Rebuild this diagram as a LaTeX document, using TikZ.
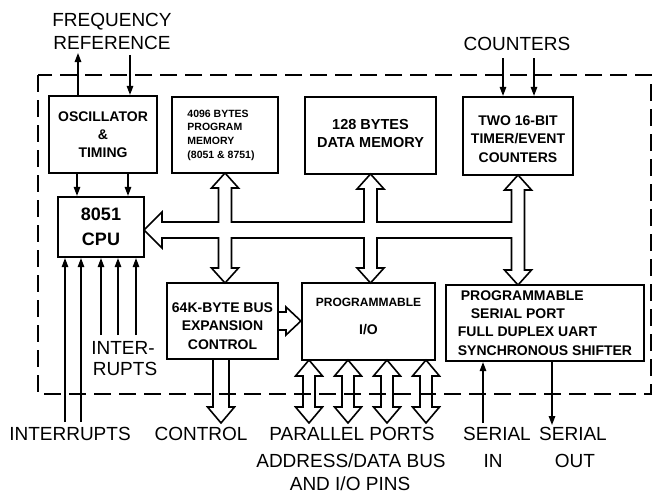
\documentclass[tikz,border=0pt]{standalone}
\usepackage{fontspec}
\setmainfont{Liberation Sans}
\usetikzlibrary{arrows.meta,calc}
\tikzset{
  box/.style={draw, line width=2.2pt, inner sep=0pt},
  btxt/.style={font=\bfseries\fontsize{14}{18.3}\selectfont, align=center, inner sep=0pt},
  arr/.style={line width=1.4pt, -{Triangle[length=9pt,width=6.5pt]}},
  hollow/.style={line width=1.6pt, line join=miter},
  lbl/.style={font=\fontsize{19}{22}\selectfont, inner sep=0pt, anchor=base},
  border/.style={line width=2.6pt, dash pattern=on 17pt off 8pt},
}
\newcommand{\vdoublearrow}[3]{% x, top tip y, bottom tip y
  \draw[hollow] (#1,#2) -- ({#1+13.5},{#2+16}) -- ({#1+6},{#2+16}) -- ({#1+6},{#3-16})
    -- ({#1+13.5},{#3-16}) -- (#1,#3) -- ({#1-13.5},{#3-16}) -- ({#1-6},{#3-16})
    -- ({#1-6},{#2+16}) -- ({#1-13.5},{#2+16}) -- cycle;}
\begin{document}
\begin{tikzpicture}[x=1pt,y=-1pt]
\useasboundingbox (0,0) rectangle (655,495);

% dashed chip border
\draw[border] (38,75) rectangle (651,394);

% blocks
\node[box, minimum width=108pt, minimum height=77pt] (osc) at (103,134.5) {};
\node[btxt] (osct) at (osc.center) {OSCILLATOR\\\&\\TIMING};
\node[box, minimum width=106pt, minimum height=76pt] (prog) at (225,135) {};
\node[btxt, font=\bfseries\fontsize{10.5}{13.7}\selectfont, align=left] (progt) at ($(prog.center)+(-4,0)$) {4096 BYTES\\PROGRAM\\MEMORY\\(8051 \& 8751)};
\node[box, minimum width=131pt, minimum height=77pt] (data) at (370.5,135.5) {};
\node[btxt, font=\bfseries\fontsize{14.5}{18}\selectfont] (datat) at ($(data.center)+(0,-1.5)$) {128 BYTES\\DATA MEMORY};
\node[box, minimum width=110pt, minimum height=78pt] (timer) at (518,136) {};
\node[btxt] (timert) at ($(timer.center)+(0,3)$) {TWO 16-BIT\\TIMER/EVENT\\COUNTERS};
\node[box, minimum width=86pt, minimum height=60pt] (cpu) at (101,227) {};
\node[btxt, font=\bfseries\fontsize{18}{25}\selectfont] (cput) at (cpu.center) {8051\\CPU};
\node[box, minimum width=111pt, minimum height=76pt] (exp) at (222.5,321) {};
\node[btxt] (expt) at ($(exp.center)+(0,5)$) {64K-BYTE BUS\\EXPANSION\\CONTROL};
\node[box, minimum width=133pt, minimum height=77pt] (io) at (368.5,321.5) {};
\node[btxt, font=\bfseries\fontsize{12}{14}\selectfont] (iot1) at (368.5,302) {PROGRAMMABLE};
\node[btxt] (iot2) at (368.5,330) {I/O};
\node[box, minimum width=198pt, minimum height=76pt] (ser) at (545,323) {};
\node[btxt, align=left] (sert) at (ser.center) {\hspace*{3pt}PROGRAMMABLE\\\hspace*{13pt}SERIAL PORT\\FULL DUPLEX UART\\SYNCHRONOUS SHIFTER};

% external labels
\node[lbl] (freq) at (112,27) {FREQUENCY};
\node[lbl] (ref) at (112,49) {REFERENCE};
\node[lbl] (cnt) at (517,50) {COUNTERS};
\node[lbl] (inter) at (123,354) {INTER-};
\node[lbl] (rupts) at (125,375) {RUPTS};
\node[lbl] (ints) at (70,440) {INTERRUPTS};
\node[lbl] (ctrl) at (201,440) {CONTROL};
\node[lbl] (par) at (352,440) {PARALLEL PORTS};
\node[lbl] (adb) at (351,467) {ADDRESS/DATA BUS};
\node[lbl] (pins) at (350,490) {AND I/O PINS};
\node[lbl] (sin1) at (497,440) {SERIAL};
\node[lbl] (sin2) at (493,467) {IN};
\node[lbl] (sout1) at (573,440) {SERIAL};
\node[lbl] (sout2) at (575,467) {OUT};

% free ends
\coordinate (fout) at (78,53);
\coordinate (fin) at (130,55);
\coordinate (c1) at (503,58);
\coordinate (c2) at (534,58);
\coordinate (i1) at (65,422);
\coordinate (i2) at (81,422);
\coordinate (i3) at (101,335);
\coordinate (i4) at (118,335);
\coordinate (i5) at (136,335);
\coordinate (sin) at (483,423);
\coordinate (sout) at (552,425);

% thin arrows
\draw[arr] (osc.north -| fout) -- (fout);
\draw[arr] (fin) -- (fin |- osc.north);
\draw[arr] ([xshift=-26pt]osc.south) -- ([xshift=-26pt]osc.south |- cpu.north);
\draw[arr] ([xshift=25pt]osc.south) -- ([xshift=25pt]osc.south |- cpu.north);
\draw[arr] (c1) -- (c1 |- timer.north);
\draw[arr] (c2) -- (c2 |- timer.north);
\foreach \p in {i1,i2,i3,i4,i5} \draw[arr] (\p) -- (\p |- cpu.south);
\draw[arr] (sin) -- (sin |- ser.south);
\draw[arr] (sout |- ser.south) -- (sout);

% internal bus (hollow)
\def\xa{225}\def\xb{370.5}\def\xc{518}
\def\yu{222}\def\yl{238}
\draw[hollow] (144,230) -- (162,212) -- (162,\yu)
  -- ({\xa-6.5},\yu) -- ({\xa-6.5},188) -- ({\xa-13.5},188) -- (\xa,173) -- ({\xa+13.5},188) -- ({\xa+6.5},188) -- ({\xa+6.5},\yu)
  -- ({\xb-6.5},\yu) -- ({\xb-6.5},189) -- ({\xb-13.5},189) -- (\xb,174) -- ({\xb+13.5},189) -- ({\xb+6.5},189) -- ({\xb+6.5},\yu)
  -- ({\xc-6.5},\yu) -- ({\xc-6.5},190) -- ({\xc-13.5},190) -- (\xc,175) -- ({\xc+13.5},190) -- ({\xc+6.5},190)
  -- ({\xc+6.5},270) -- ({\xc+13.5},270) -- (\xc,285) -- ({\xc-13.5},270) -- ({\xc-6.5},270) -- ({\xc-6.5},\yl)
  -- ({\xb+6.5},\yl) -- ({\xb+6.5},268) -- ({\xb+13.5},268) -- (\xb,283) -- ({\xb-13.5},268) -- ({\xb-6.5},268) -- ({\xb-6.5},\yl)
  -- ({\xa+6.5},\yl) -- ({\xa+6.5},268) -- ({\xa+13.5},268) -- (\xa,283) -- ({\xa-13.5},268) -- ({\xa-6.5},268) -- ({\xa-6.5},\yl)
  -- (162,\yl) -- (162,248) -- cycle;

% expansion -> I/O
\draw[hollow] (exp.east |- 0,312) -- (286,312) -- (286,307) -- (io.west |- 0,321) -- (286,335) -- (286,330) -- (exp.east |- 0,330);

% control out
\draw[hollow] (213,359) -- (213,407) -- (207.5,407) -- (221,423) -- (234.5,407) -- (229,407) -- (229,359);

% parallel ports
\vdoublearrow{309}{360}{423}
\vdoublearrow{348}{360}{423}
\vdoublearrow{387}{360}{423}
\vdoublearrow{426}{360}{423}
\end{tikzpicture}
\end{document}
